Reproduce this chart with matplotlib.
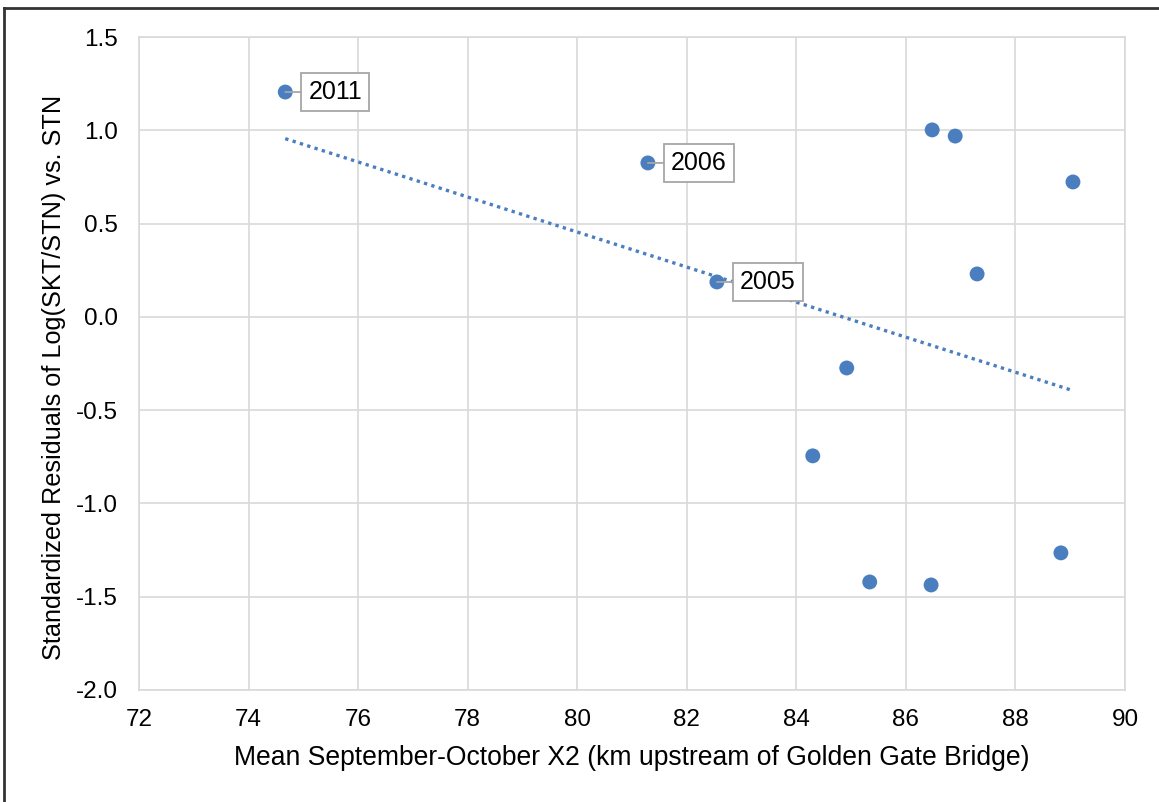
import numpy as np
import matplotlib
matplotlib.use("Agg")
import matplotlib.pyplot as plt
from matplotlib.lines import Line2D

x2_km = [74.67, 81.29, 82.55, 86.48, 86.90, 89.05, 87.30, 84.92, 84.30, 85.34, 86.46, 88.83]
residuals = [1.205, 0.825, 0.187, 1.002, 0.969, 0.723, 0.230, -0.274, -0.745, -1.421, -1.437, -1.265]
labels = ["2011", "2006", "2005", "", "", "", "", "", "", "", "", ""]
xticks = [72, 74, 76, 78, 80, 82, 84, 86, 88, 90]
yticks = [-2.0, -1.5, -1.0, -0.5, 0.0, 0.5, 1.0, 1.5]

plt.rcParams['font.family'] = ['Liberation Sans', 'DejaVu Sans']
fig = plt.figure(figsize=(11.59, 8.02), dpi=100)
ax = fig.add_axes([139/1159, 1-690/802, (1125-139)/1159, (690-37)/802])

color = '#4A7EBF'
grid_c = '#D9D9D9'

# trendline
slope, intercept = np.polyfit(x2_km, residuals, 1)
xs = np.array([min(x2_km), max(x2_km)])
ax.plot(xs, slope*xs + intercept, linestyle=(0, (1, 1.3)), color=color, lw=2.4, zorder=2)

ax.scatter(x2_km, residuals, s=115, color=color, zorder=3, edgecolors='none')

for xv, yv, lab in zip(x2_km, residuals, labels):
    if lab:
        ax.annotate(lab, xy=(xv, yv), xytext=(23, 0), textcoords='offset pixels',
                    ha='left', va='center', fontsize=18, color='black',
                    bbox=dict(boxstyle='square,pad=0.28', fc='white', ec='#A6A6A6', lw=1.3),
                    arrowprops=dict(arrowstyle='-', color='#A6A6A6', lw=1.3, shrinkA=0, shrinkB=0),
                    zorder=4)

ax.set_xlim(72, 90)
ax.set_ylim(-2.0, 1.5)
ax.set_xticks(xticks)
ax.set_yticks(yticks)
ax.set_yticklabels([f"{v:.1f}" for v in yticks])
ax.grid(True, color=grid_c, lw=1.2, zorder=0)
ax.set_axisbelow(True)
for s in ax.spines.values():
    s.set_color(grid_c)
    s.set_linewidth(1.2)
ax.tick_params(length=0, labelsize=17.5, colors='black')
ax.tick_params(axis='y', pad=15)
ax.tick_params(axis='x', pad=14)
ax.set_xlabel("Mean September-October X2 (km upstream of Golden Gate Bridge)", fontsize=19.1, labelpad=10)
ax.set_ylabel("Standardized Residuals of Log(SKT/STN) vs. STN", fontsize=18.2)
ax.yaxis.set_label_coords(-0.074, 0.479)

# figure border (top and left)
fig.add_artist(Line2D([4/1159, 4/1159], [0, 1-8/802], transform=fig.transFigure, color='#333333', lw=2))
fig.add_artist(Line2D([4/1159, 1], [1-8/802, 1-8/802], transform=fig.transFigure, color='#333333', lw=2))

fig.savefig("out.png", dpi=100)
